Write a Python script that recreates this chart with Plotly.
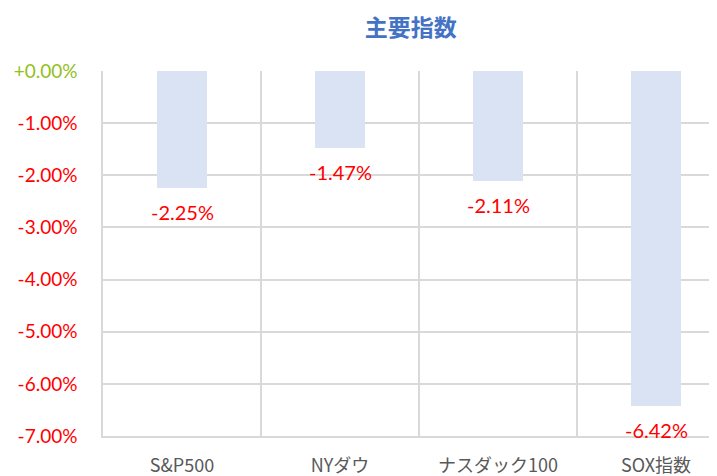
import plotly.graph_objects as go

categories = ["S&P500", "NYダウ", "ナスダック100", "SOX指数"]
values = [-2.25, -1.47, -2.11, -6.42]
value_labels = ["-2.25%", "-1.47%", "-2.11%", "-6.42%"]
y_tickvals = [0, -1, -2, -3, -4, -5, -6, -7]
y_ticklabels = ["+0.00%", "-1.00%", "-2.00%", "-3.00%", "-4.00%", "-5.00%", "-6.00%", "-7.00%"]

GREEN = "#92C020"
RED = "#FF0000"
GRID = "#D9D9D9"
num_font = "Lato, 'Noto Sans', sans-serif"
jp_font = "'Noto Sans CJK JP', 'Noto Sans', sans-serif"

ticktext = [
    f'<span style="color:{GREEN if v >= 0 else RED}">{t}</span>'
    for v, t in zip(y_tickvals, y_ticklabels)
]

fig = go.Figure()
fig.add_trace(go.Bar(
    x=categories, y=values, width=0.32,
    marker=dict(color="#DAE3F3", line=dict(width=0)),
    hoverinfo="skip",
))

for c, v, t in zip(categories, values, value_labels):
    fig.add_annotation(
        x=c, y=v, text=t, showarrow=False,
        xanchor="center", yanchor="top", yshift=-10,
        font=dict(family=num_font, size=20, color=RED),
    )

# page has an 8px body margin, so the figure is sized to fill the rest of the window
fig.update_layout(
    width=709, height=468,
    margin=dict(l=95, r=0, t=63, b=40, autoexpand=False),
    paper_bgcolor="white", plot_bgcolor="white",
    showlegend=False,
    bargap=0,
    title=dict(
        text="<b>主要指数</b>", x=0.568, xref="container", xanchor="center",
        y=0.958, yref="container", yanchor="middle",
        font=dict(family=jp_font, size=23, color="#4472C4"),
    ),
    xaxis=dict(
        type="category", range=[-0.5, 3.386], automargin=False,
        tickson="boundaries", showgrid=True, gridcolor=GRID, gridwidth=1.5,
        ticks="", showline=True, linecolor=GRID, linewidth=1.5, zeroline=False,
        tickfont=dict(family=jp_font, size=18, color="#595959"),
        ticklabelstandoff=13,
    ),
    yaxis=dict(
        range=[-7, 0], tickvals=y_tickvals, ticktext=ticktext, automargin=False,
        showgrid=True, gridcolor=GRID, gridwidth=1.5,
        zeroline=False, showline=True, linecolor=GRID, linewidth=1.5, ticks="",
        tickfont=dict(family=num_font, size=19, color=RED),
        ticklabelstandoff=20,
    ),
)

fig.write_html("out.html")
